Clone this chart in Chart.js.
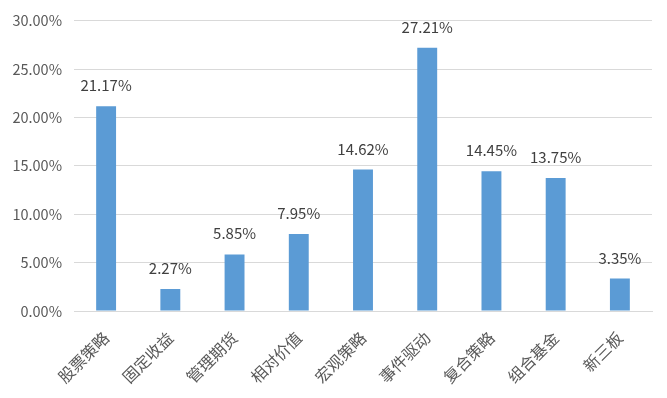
<!DOCTYPE html>
<html>
<head>
<meta charset="utf-8">
<script src="https://cdn.jsdelivr.net/npm/chart.js@4/dist/chart.umd.min.js"></script>
<style>
  html, body { margin: 0; padding: 0; background: #fff; }
</style>
</head>
<body>
<canvas id="strategy-chart" width="667" height="398"></canvas>
<script>
// categories and values (percent)
const categories = ["股票策略", "固定收益", "管理期货", "相对价值", "宏观策略", "事件驱动", "复合策略", "组合基金", "新三板"];
const returns = [21.17, 2.27, 5.85, 7.95, 14.62, 27.21, 14.45, 13.75, 3.35];
const yTicks = [0, 5, 10, 15, 20, 25, 30];

const fontFamily = "'Noto Sans CJK SC', 'Noto Sans', sans-serif";

// draw value labels above each bar
const valueLabels = {
  id: 'valueLabels',
  afterDatasetsDraw(chart) {
    const ctx = chart.ctx;
    const meta = chart.getDatasetMeta(0);
    ctx.save();
    ctx.font = "15px " + fontFamily;
    ctx.fillStyle = "#404040";
    ctx.textAlign = "center";
    ctx.textBaseline = "alphabetic";
    meta.data.forEach(function(bar, i) {
      ctx.fillText(returns[i].toFixed(2) + "%", bar.x, bar.y - 15);
    });
    ctx.restore();
  }
};

new Chart("strategy-chart", {
  type: "bar",
  data: {
    labels: categories,
    datasets: [{
      data: returns,
      backgroundColor: "#5B9BD5",
      barPercentage: 0.62,
      categoryPercentage: 0.5
    }]
  },
  options: {
    responsive: false,
    animation: false,
    layout: { padding: { top: 17, right: 15, left: 0, bottom: 0 } },
    plugins: {
      legend: { display: false },
      tooltip: { enabled: false }
    },
    scales: {
      x: {
        grid: { display: false },
        border: { color: "#D9D9D9" },
        ticks: {
          color: "#595959",
          font: { size: 16, family: fontFamily },
          minRotation: 45,
          maxRotation: 45,
          padding: 9
        },
        afterFit: function(scale) { scale.height = 87; }
      },
      y: {
        min: 0,
        max: 30,
        afterBuildTicks: function(scale) {
          scale.ticks = yTicks.map(function(v) { return { value: v }; });
        },
        grid: { color: "#D9D9D9", drawTicks: false },
        border: { display: false },
        ticks: {
          color: "#595959",
          font: { size: 14.5, family: fontFamily },
          padding: 12,
          callback: function(value) { return value.toFixed(2) + "%"; }
        },
        afterFit: function(scale) { scale.width = 74; }
      }
    }
  },
  plugins: [valueLabels]
});
</script>
</body>
</html>
